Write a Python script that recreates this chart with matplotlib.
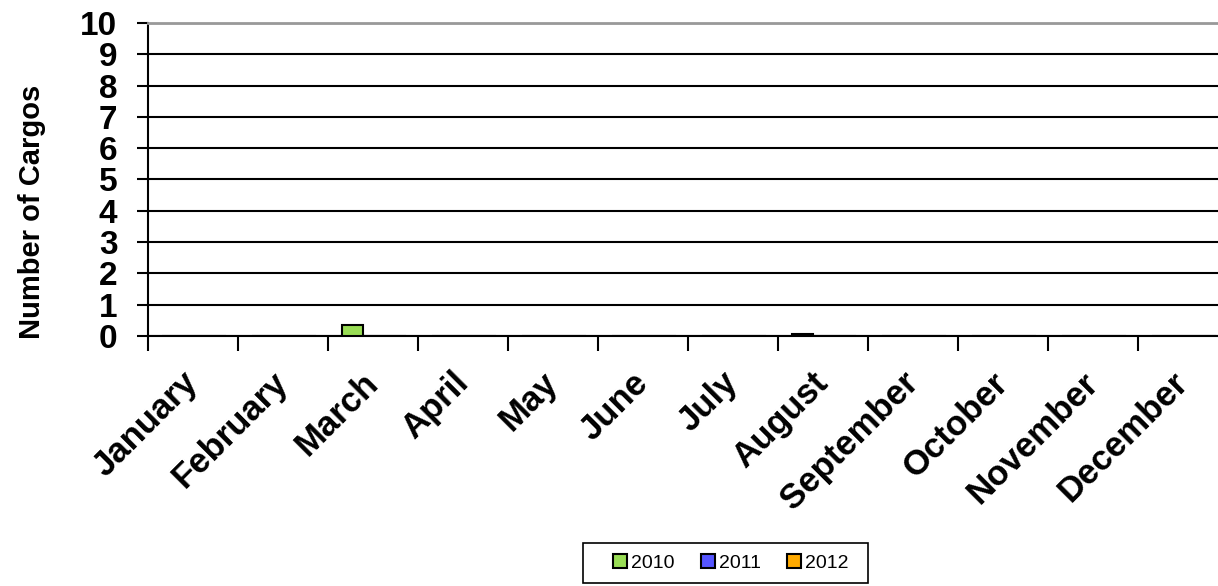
import matplotlib.pyplot as plt
from matplotlib.patches import Rectangle
import numpy as np

months = ['January', 'February', 'March', 'April', 'May', 'June', 'July',
          'August', 'September', 'October', 'November', 'December']
years = ['2010', '2011', '2012']
cargos_2010 = [0, 0, 0.35, 0, 0, 0, 0, 0.05, 0, 0, 0, 0]
cargos_2011 = [0, 0, 0, 0, 0, 0, 0, 0, 0, 0, 0, 0]
cargos_2012 = [0, 0, 0, 0, 0, 0, 0, 0, 0, 0, 0, 0]
colors = ['#99DD55', '#5555FF', '#FFAA00']

plt.rcParams['font.family'] = ['Liberation Sans', 'DejaVu Sans']

fig = plt.figure(figsize=(12.18, 5.86), dpi=100)
ax = fig.add_axes([0.1215, 0.4266, 0.8867, 0.5342])

x = np.arange(len(months))
w = 0.235
for i, (vals, c, lab) in enumerate(zip([cargos_2010, cargos_2011, cargos_2012], colors, years)):
    ax.bar(x + (i - 1) * w + 0.01, vals, w, color=c, edgecolor='black', linewidth=1.5,
           label=lab, zorder=3)

ax.set_xlim(-0.5, len(months) - 0.5)
ax.set_ylim(0, 10)
ax.set_yticks(range(0, 11))
ax.tick_params(axis='y', labelsize=24, width=1.5, length=8, pad=14)
for t in ax.get_yticklabels():
    t.set_fontweight('bold')

ax.set_xticks(x)
ax.set_xticklabels(months, rotation=45, ha='right', va='center', rotation_mode='anchor',
                   fontsize=25, fontweight='bold')
ax.tick_params(axis='x', length=0, pad=30)
ax.set_xticks(np.arange(-0.5, len(months)), minor=True)
ax.tick_params(axis='x', which='minor', length=11, width=1.5)

ax.yaxis.grid(True, color='black', linewidth=1.5, zorder=0)
ax.set_axisbelow(True)
ax.spines['right'].set_visible(False)
ax.spines['top'].set_color('#999999')
ax.spines['top'].set_linewidth(2)
ax.spines['left'].set_linewidth(1.5)
ax.spines['bottom'].set_linewidth(1.5)

ax.set_ylabel('Number of Cargos', fontsize=21, fontweight='bold')
ax.yaxis.set_label_coords(-0.094, 0.396)

# legend box drawn separately so the padding can match
fig.patches.append(Rectangle((583 / 1218, 3 / 586), 285 / 1218, 40 / 586,
                             transform=fig.transFigure, fill=False,
                             edgecolor='black', linewidth=1.2))
leg = fig.legend(loc='center', bbox_to_anchor=(731 / 1218, 23 / 586), ncol=3, fontsize=14,
                 frameon=False, handlelength=0.72, handleheight=0.72,
                 handletextpad=0.2, columnspacing=1.35, borderpad=0, borderaxespad=0)

plt.savefig('out.png', dpi=100)
plt.close()
